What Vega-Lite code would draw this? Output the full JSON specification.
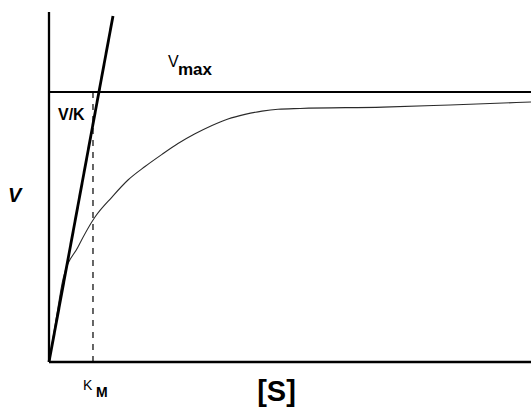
{
  "$schema": "https://vega.github.io/schema/vega-lite/v6.json",
  "width": 531,
  "height": 407,
  "autosize": {"type": "none"},
  "padding": 0,
  "background": "white",
  "config": {"view": {"stroke": null}},
  "datasets": {
    "segments": [
      {"name": "yaxis", "x": 0, "y": 0, "x2": 0, "y2": 1.296},
      {"name": "xaxis", "x": 0, "y": 0, "x2": 11.21, "y2": 0},
      {"name": "vmax", "x": 0, "y": 1, "x2": 11.21, "y2": 1},
      {"name": "km", "x": 1.023, "y": 0, "x2": 1.023, "y2": 1},
      {"name": "vk", "x": 0, "y": 0, "x2": 1.488, "y2": 1.281}
    ],
    "curve": [
      {"x": 0, "y": 0},
      {"x": 0.163, "y": 0.156},
      {"x": 0.326, "y": 0.307},
      {"x": 0.674, "y": 0.426},
      {"x": 1.07, "y": 0.537},
      {"x": 1.465, "y": 0.611},
      {"x": 1.837, "y": 0.674},
      {"x": 2.233, "y": 0.724},
      {"x": 2.628, "y": 0.769},
      {"x": 3.0, "y": 0.809},
      {"x": 3.395, "y": 0.845},
      {"x": 3.79, "y": 0.876},
      {"x": 4.163, "y": 0.9},
      {"x": 4.558, "y": 0.917},
      {"x": 4.953, "y": 0.929},
      {"x": 5.326, "y": 0.936},
      {"x": 5.84, "y": 0.939},
      {"x": 7.767, "y": 0.944},
      {"x": 9.326, "y": 0.952},
      {"x": 11.209, "y": 0.963}
    ],
    "labels": [
      {"name": "Vmain", "text": "V", "x": 2.767, "y": 1.093},
      {"name": "Vsub", "text": "max", "x": 3.0, "y": 1.063},
      {"name": "VK", "text": "V/K", "x": 0.209, "y": 0.896},
      {"name": "Vaxis", "text": "V", "x": -0.953, "y": 0.593},
      {"name": "Kmain", "text": "K", "x": 0.791, "y": -0.104},
      {"name": "Ksub", "text": "M", "x": 1.093, "y": -0.13},
      {"name": "S", "text": "[S]", "x": 4.84, "y": -0.144}
    ]
  },
  "encoding": {
    "x": {"field": "x", "type": "quantitative", "scale": {"domain": [-1.1395, 11.209], "nice": false, "zero": false}, "axis": null},
    "y": {"field": "y", "type": "quantitative", "scale": {"domain": [-0.1667, 1.3407], "nice": false, "zero": false}, "axis": null}
  },
  "layer": [
    {
      "data": {"name": "curve"},
      "mark": {"type": "line", "color": "#2a2a2a", "strokeWidth": 1.1, "interpolate": "monotone"},
      "encoding": {}
    },
    {
      "data": {"name": "segments"},
      "transform": [{"filter": "datum.name === 'yaxis' || datum.name === 'xaxis'"}],
      "mark": {"type": "rule", "color": "black", "strokeWidth": 2.3},
      "encoding": {"x2": {"field": "x2"}, "y2": {"field": "y2"}}
    },
    {
      "data": {"name": "segments"},
      "transform": [{"filter": "datum.name === 'vmax'"}],
      "mark": {"type": "rule", "color": "black", "strokeWidth": 1.8},
      "encoding": {"x2": {"field": "x2"}, "y2": {"field": "y2"}}
    },
    {
      "data": {"name": "segments"},
      "transform": [{"filter": "datum.name === 'km'"}],
      "mark": {"type": "rule", "color": "black", "strokeWidth": 1.2, "strokeDash": [6, 6]},
      "encoding": {"x2": {"field": "x2"}, "y2": {"field": "y2"}}
    },
    {
      "data": {"name": "segments"},
      "transform": [{"filter": "datum.name === 'vk'"}],
      "mark": {"type": "rule", "color": "black", "strokeWidth": 2.8},
      "encoding": {"x2": {"field": "x2"}, "y2": {"field": "y2"}}
    },
    {
      "data": {"name": "labels"},
      "transform": [{"filter": "datum.name === 'Vmain'"}],
      "mark": {"type": "text", "font": "Liberation Sans", "fontSize": 16, "align": "left", "baseline": "alphabetic", "color": "black"},
      "encoding": {"text": {"field": "text"}}
    },
    {
      "data": {"name": "labels"},
      "transform": [{"filter": "datum.name === 'Vsub'"}],
      "mark": {"type": "text", "font": "Liberation Sans", "fontSize": 17, "fontWeight": "bold", "align": "left", "baseline": "alphabetic", "color": "black"},
      "encoding": {"text": {"field": "text"}}
    },
    {
      "data": {"name": "labels"},
      "transform": [{"filter": "datum.name === 'VK'"}],
      "mark": {"type": "text", "font": "Liberation Sans", "fontSize": 16, "fontWeight": "bold", "align": "left", "baseline": "alphabetic", "color": "black"},
      "encoding": {"text": {"field": "text"}}
    },
    {
      "data": {"name": "labels"},
      "transform": [{"filter": "datum.name === 'Vaxis'"}],
      "mark": {"type": "text", "font": "Liberation Sans", "fontSize": 20, "fontWeight": "bold", "fontStyle": "italic", "align": "left", "baseline": "alphabetic", "color": "black"},
      "encoding": {"text": {"field": "text"}}
    },
    {
      "data": {"name": "labels"},
      "transform": [{"filter": "datum.name === 'Kmain'"}],
      "mark": {"type": "text", "font": "Liberation Sans", "fontSize": 14, "align": "left", "baseline": "alphabetic", "color": "black"},
      "encoding": {"text": {"field": "text"}}
    },
    {
      "data": {"name": "labels"},
      "transform": [{"filter": "datum.name === 'Ksub'"}],
      "mark": {"type": "text", "font": "Liberation Sans", "fontSize": 14, "fontWeight": "bold", "align": "left", "baseline": "alphabetic", "color": "black"},
      "encoding": {"text": {"field": "text"}}
    },
    {
      "data": {"name": "labels"},
      "transform": [{"filter": "datum.name === 'S'"}],
      "mark": {"type": "text", "font": "Liberation Sans", "fontSize": 29, "fontWeight": "bold", "align": "left", "baseline": "alphabetic", "color": "black"},
      "encoding": {"text": {"field": "text"}}
    }
  ]
}
